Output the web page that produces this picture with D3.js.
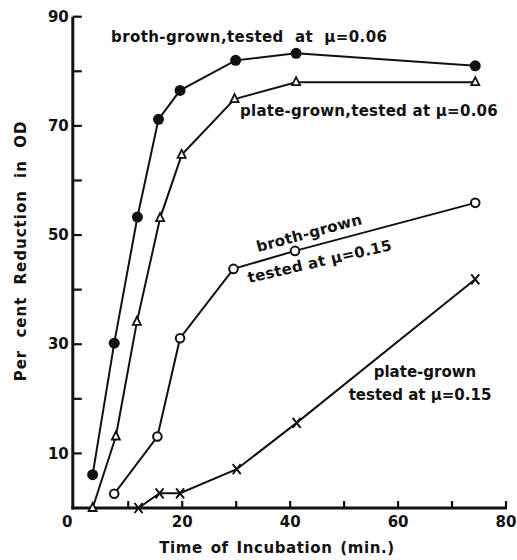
<!DOCTYPE html>
<html>
<head>
<meta charset="utf-8">
<script src="https://cdn.jsdelivr.net/npm/d3@7"></script>
<style>
  html, body { margin: 0; padding: 0; background: #fff; }
  svg text { font-family: "DejaVu Sans", sans-serif; font-weight: bold; fill: #111; }
</style>
</head>
<body>
<svg id="chart" width="517" height="560"></svg>
<script>
// ---- data ----
const brothX006 = [3.4, 7.4, 11.7, 15.6, 19.6, 29.9, 41.1, 74.3];
const brothY006 = [6.1, 30.2, 53.3, 71.2, 76.5, 82.0, 83.3, 81.0];
const plateX006 = [3.4, 7.7, 11.6, 15.9, 19.9, 29.7, 41.1, 74.3];
const plateY006 = [0, 13.1, 34.1, 53.1, 64.7, 74.9, 78.0, 78.0];
const brothX015 = [7.4, 15.4, 19.6, 29.5, 40.9, 74.3];
const brothY015 = [2.6, 13.1, 31.1, 43.8, 47.1, 55.9];
const plateX015 = [11.9, 15.8, 19.6, 30.1, 41.2, 74.3];
const plateY015 = [0, 2.7, 2.7, 7.1, 15.6, 41.9];
const xTicks = [10, 20, 30, 40, 50, 60, 70, 80];
const xTickLabels = [20, 40, 60, 80];
const yTicks = [10, 20, 30, 40, 50, 60, 70, 80, 90];
const yTickLabels = [10, 30, 50, 70, 90];
const xTitle = "Time of Incubation (min.)";
const yTitle = "Per cent Reduction in OD";

const svg = d3.select("#chart");
const x = d3.scaleLinear().domain([0, 80]).range([74.3, 506]);
const y = d3.scaleLinear().domain([0, 90]).range([508, 16.7]);

const ink = "#111";
const ax0 = x(0) - 1.5;

// axis lines
svg.append("line").attr("x1", ax0).attr("x2", ax0).attr("y1", y(0) + 1.5).attr("y2", y(90))
  .attr("stroke", ink).attr("stroke-width", 3);
svg.append("line").attr("x1", ax0 - 1.5).attr("x2", x(80) + 1).attr("y1", y(0)).attr("y2", y(0))
  .attr("stroke", ink).attr("stroke-width", 3);

// y ticks (inward) and labels
svg.append("g").selectAll("line").data(yTicks).join("line")
  .attr("x1", ax0).attr("x2", ax0 + 9).attr("y1", d => y(d)).attr("y2", d => y(d))
  .attr("stroke", ink).attr("stroke-width", 2.2);
svg.append("g").selectAll("text").data(yTickLabels).join("text")
  .attr("x", ax0 - 4).attr("y", d => y(d)).attr("dy", "0.35em").attr("text-anchor", "end")
  .attr("font-size", 15).text(d => d);

// x ticks (inward) and labels
svg.append("g").selectAll("line").data(xTicks).join("line")
  .attr("x1", d => x(d)).attr("x2", d => x(d)).attr("y1", y(0)).attr("y2", y(0) - 7)
  .attr("stroke", ink).attr("stroke-width", 2.2);
svg.append("g").selectAll("text").data(xTickLabels).join("text")
  .attr("x", d => x(d)).attr("y", y(0) + 19).attr("text-anchor", "middle")
  .attr("font-size", 15).text(d => d);

// corner zero
svg.append("text").attr("x", x(0) - 7).attr("y", y(0) + 19).attr("text-anchor", "middle")
  .attr("font-size", 15).text("0");

// titles
svg.append("text").attr("x", 277).attr("y", 553).attr("text-anchor", "middle")
  .attr("font-size", 15).attr("letter-spacing", 0.6).attr("word-spacing", 2).text(xTitle);
svg.append("text").attr("transform", "translate(26,251) rotate(-90)").attr("text-anchor", "middle")
  .attr("font-size", 15).attr("letter-spacing", 1).attr("word-spacing", 6).text(yTitle);

// lines
const line = d3.line().x(d => x(d[0])).y(d => y(d[1]));
const series = [
  { xs: brothX006, ys: brothY006, marker: "filled" },
  { xs: plateX006, ys: plateY006, marker: "triangle" },
  { xs: brothX015, ys: brothY015, marker: "open" },
  { xs: plateX015, ys: plateY015, marker: "cross" }
];
series.forEach(s => {
  const pts = s.xs.map((v, i) => [v, s.ys[i]]);
  svg.append("path").attr("d", line(pts)).attr("fill", "none")
    .attr("stroke", ink).attr("stroke-width", 2);
  const g = svg.append("g");
  pts.forEach(p => {
    const cx = x(p[0]), cy = y(p[1]);
    if (s.marker === "filled") {
      g.append("circle").attr("cx", cx).attr("cy", cy).attr("r", 5.5).attr("fill", ink);
    } else if (s.marker === "open") {
      g.append("circle").attr("cx", cx).attr("cy", cy).attr("r", 4.3)
        .attr("fill", "#fff").attr("stroke", ink).attr("stroke-width", 2);
    } else if (s.marker === "triangle") {
      g.append("path").attr("d", `M${cx},${cy - 5}L${cx + 4},${cy + 3}L${cx - 4},${cy + 3}Z`)
        .attr("fill", "#fff").attr("stroke", ink).attr("stroke-width", 1.8);
    } else {
      g.append("path").attr("d", `M${cx - 4},${cy - 5}L${cx + 4},${cy + 5}M${cx + 4},${cy - 5}L${cx - 4},${cy + 5}`)
        .attr("stroke", ink).attr("stroke-width", 2);
    }
  });
});

// annotations
svg.append("text").attr("x", 111).attr("y", 42).attr("font-size", 15).attr("letter-spacing", 0.4)
  .attr("xml:space", "preserve").text("broth-grown,tested  at  μ=0.06");
svg.append("text").attr("x", 240).attr("y", 116).attr("font-size", 15).attr("letter-spacing", 0.25)
  .text("plate-grown,tested at μ=0.06");
svg.append("text").attr("transform", "translate(258,252) rotate(-15)").attr("font-size", 15)
  .attr("letter-spacing", 0.3).text("broth-grown");
svg.append("text").attr("transform", "translate(249,283) rotate(-13)").attr("font-size", 15)
  .attr("letter-spacing", 0.3).text("tested at μ=0.15");
svg.append("text").attr("x", 425).attr("y", 377).attr("text-anchor", "middle").attr("font-size", 15)
  .text("plate-grown");
svg.append("text").attr("x", 420).attr("y", 400).attr("text-anchor", "middle").attr("font-size", 15)
  .text("tested at μ=0.15");
</script>
</body>
</html>
